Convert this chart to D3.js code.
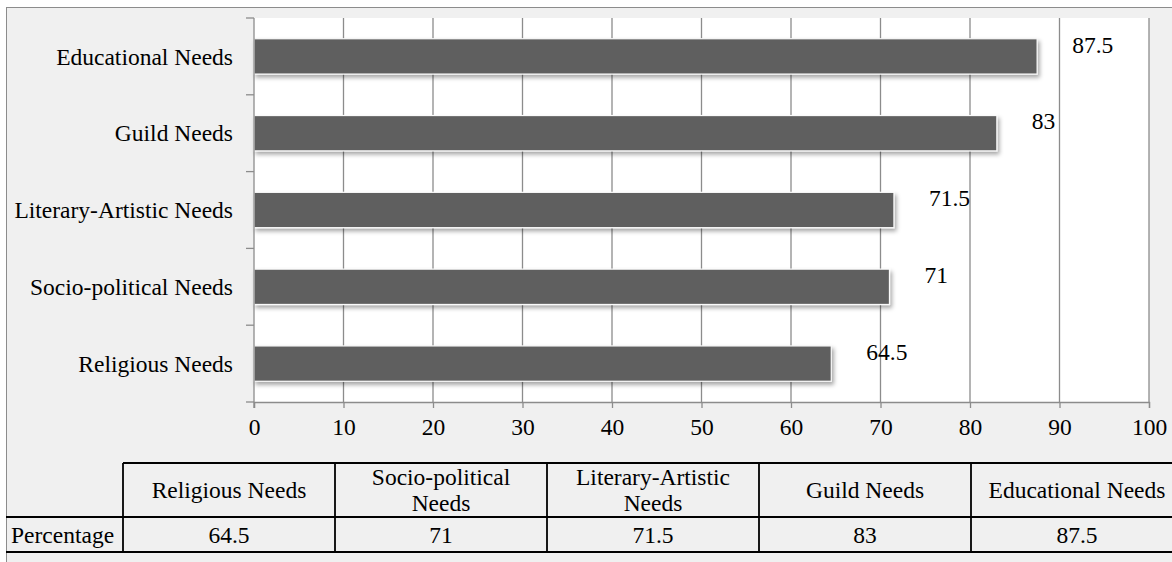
<!DOCTYPE html>
<html>
<head>
<meta charset="utf-8">
<script src="https://cdn.jsdelivr.net/npm/d3@7"></script>
<style>
  body { margin: 0; background: #fff; }
  text { font-family: "Liberation Serif", "Times New Roman", serif; fill: #000; }
</style>
</head>
<body>
<div id="graph"></div>
<script>
var width = 1172;
var height = 562;

// data, in the order of the table (bottom bar first)
var categories = ['Religious Needs', 'Socio-political Needs', 'Literary-Artistic Needs', 'Guild Needs', 'Educational Needs'];
var values = [64.5, 71, 71.5, 83, 87.5];
var xTicks = [0, 10, 20, 30, 40, 50, 60, 70, 80, 90, 100];
var rowLabel = 'Percentage';

var fontSize = 23.5;
var pLeft = 254, pRight = 1149, pTop = 18, pBottom = 402;

var svg = d3.select('#graph')
    .append('svg')
    .attr('width', width)
    .attr('height', height);

var defs = svg.append('defs');
var f = defs.append('filter').attr('id', 'shadow')
    .attr('x', '-5%').attr('y', '-30%').attr('width', '110%').attr('height', '170%');
f.append('feDropShadow')
    .attr('dx', 2).attr('dy', 3)
    .attr('stdDeviation', 2)
    .attr('flood-color', '#000')
    .attr('flood-opacity', 0.35);

// outer frame
svg.append('rect')
    .attr('x', 6.5).attr('y', 7.5)
    .attr('width', width + 10).attr('height', height + 10)
    .attr('fill', '#f0f0f0')
    .attr('stroke', '#8c8c8c')
    .attr('stroke-width', 1);

var x = d3.scaleLinear().domain([0, 100]).range([pLeft, pRight]);
var y = d3.scaleBand()
    .domain(categories.slice().reverse())
    .range([pTop, pBottom])
    .paddingInner(0.54)
    .paddingOuter(0.27);

// plot area
svg.append('rect')
    .attr('x', pLeft).attr('y', pTop)
    .attr('width', pRight - pLeft).attr('height', pBottom - pTop)
    .attr('fill', '#fff');

// gridlines
svg.append('g')
    .selectAll('line')
    .data(xTicks.slice(1))
    .enter()
    .append('line')
    .attr('x1', function(d) { return x(d); })
    .attr('x2', function(d) { return x(d); })
    .attr('y1', pTop)
    .attr('y2', pBottom)
    .attr('stroke', '#8c8c8c')
    .attr('stroke-width', 1.3);

// bars
var data = categories.map(function(c, i) { return { name: c, value: values[i] }; });

svg.append('g')
    .selectAll('rect')
    .data(data)
    .enter()
    .append('rect')
    .attr('x', x(0))
    .attr('y', function(d) { return y(d.name); })
    .attr('width', function(d) { return x(d.value) - x(0); })
    .attr('height', y.bandwidth())
    .attr('fill', '#5f5f5f')
    .attr('stroke', '#fafafa')
    .attr('stroke-width', 1.2)
    .attr('filter', 'url(#shadow)');

// data labels
svg.append('g')
    .selectAll('text')
    .data(data)
    .enter()
    .append('text')
    .attr('x', function(d) { return x(d.value) + 35; })
    .attr('y', function(d) { return y(d.name) + y.bandwidth() / 2 - 12; })
    .attr('dy', '0.35em')
    .style('font-size', fontSize + 'px')
    .text(function(d) { return d.value; });

// x axis
var xAxis = svg.append('g')
    .attr('transform', 'translate(0,' + pBottom + ')')
    .call(d3.axisBottom(x).tickValues(xTicks).tickSize(6).tickPadding(10));
xAxis.select('.domain').attr('stroke', '#8c8c8c').attr('stroke-width', 1.3);
xAxis.selectAll('.tick line').attr('stroke', '#8c8c8c').attr('stroke-width', 1.3);
xAxis.selectAll('.tick text')
    .style('font-family', '"Liberation Serif", serif')
    .style('font-size', fontSize + 'px')
    .attr('fill', '#000');

// y axis: ticks at band boundaries
var yAxisG = svg.append('g');
yAxisG.append('line')
    .attr('x1', pLeft).attr('x2', pLeft)
    .attr('y1', pTop).attr('y2', pBottom + 6)
    .attr('stroke', '#8c8c8c').attr('stroke-width', 1.3);
var bounds = y.domain().map(function(d) { return y(d) - y.step() * y.paddingInner() / 2; });
bounds.push(pBottom);
yAxisG.selectAll('line.t')
    .data(bounds)
    .enter()
    .append('line')
    .attr('class', 't')
    .attr('x1', pLeft - 8).attr('x2', pLeft)
    .attr('y1', function(d) { return d; })
    .attr('y2', function(d) { return d; })
    .attr('stroke', '#8c8c8c').attr('stroke-width', 1.3);

yAxisG.selectAll('text')
    .data(y.domain())
    .enter()
    .append('text')
    .attr('x', pLeft - 21)
    .attr('y', function(d) { return y(d) + y.bandwidth() / 2; })
    .attr('dy', '0.35em')
    .attr('text-anchor', 'end')
    .style('font-size', fontSize + 'px')
    .text(function(d) { return d; });

// data table
var tTop = 463, tMid = 517, tBot = 552, tLeft = 123, colW = 212;
var col = d3.scaleBand().domain(categories).range([tLeft, tLeft + colW * categories.length]);
var table = svg.append('g');

function hline(yy, x1, x2) {
    table.append('line').attr('x1', x1).attr('x2', x2).attr('y1', yy).attr('y2', yy)
        .attr('stroke', '#000').attr('stroke-width', 1.8);
}
hline(tTop, tLeft, width + 10);
hline(tMid, 6, width + 10);
hline(tBot, 6, width + 10);

table.selectAll('line.v')
    .data(categories)
    .enter()
    .append('line')
    .attr('class', 'v')
    .attr('x1', function(d) { return col(d); })
    .attr('x2', function(d) { return col(d); })
    .attr('y1', tTop)
    .attr('y2', tBot)
    .attr('stroke', '#000')
    .attr('stroke-width', 1.8);

// header cells (wrap long names)
table.selectAll('text.h')
    .data(categories)
    .enter()
    .append('text')
    .attr('class', 'h')
    .attr('text-anchor', 'middle')
    .style('font-size', fontSize + 'px')
    .each(function(d) {
        var t = d3.select(this);
        var cx = col(d) + colW / 2;
        t.text(d);
        var lines = [d];
        if (this.getComputedTextLength() > colW - 12) {
            var words = d.split(' ');
            lines = [words.slice(0, -1).join(' '), words[words.length - 1]];
        }
        t.text(null);
        var cy = (tTop + tMid) / 2;
        var lh = fontSize * 1.12;
        lines.forEach(function(s, i) {
            t.append('tspan')
                .attr('x', cx)
                .attr('y', cy + (i - (lines.length - 1) / 2) * lh)
                .attr('dy', '0.35em')
                .text(s);
        });
    });

// value cells
table.selectAll('text.v')
    .data(data)
    .enter()
    .append('text')
    .attr('class', 'v')
    .attr('x', function(d) { return col(d.name) + colW / 2; })
    .attr('y', (tMid + tBot) / 2)
    .attr('dy', '0.35em')
    .attr('text-anchor', 'middle')
    .style('font-size', fontSize + 'px')
    .text(function(d) { return d.value; });

table.append('text')
    .attr('x', 11)
    .attr('y', (tMid + tBot) / 2)
    .attr('dy', '0.35em')
    .style('font-size', fontSize + 'px')
    .text(rowLabel);
</script>
</body>
</html>
